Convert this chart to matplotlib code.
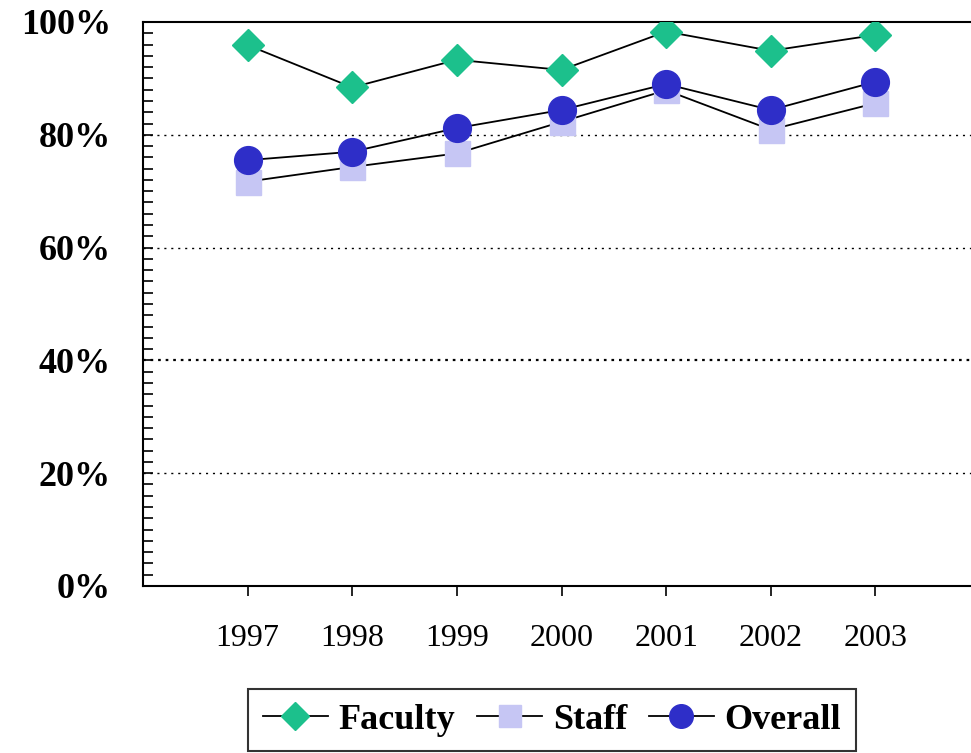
import matplotlib
matplotlib.use("Agg")
import matplotlib.pyplot as plt
from matplotlib.ticker import MultipleLocator, FuncFormatter

years = [1997, 1998, 1999, 2000, 2001, 2002, 2003]
faculty = [95.9, 88.4, 93.3, 91.5, 98.3, 94.9, 97.7]
staff = [71.7, 74.3, 76.7, 82.3, 87.9, 80.9, 85.6]
overall = [75.5, 77.0, 81.2, 84.4, 89.0, 84.4, 89.4]

W, H = 971, 753
fig = plt.figure(figsize=(W / 100, H / 100), dpi=100)
left, right, top, bottom = 143 / W, 980 / W, 1 - 22 / H, 1 - 586 / H
ax = fig.add_axes([left, bottom, right - left, top - bottom])

serif = ["Liberation Serif", "DejaVu Serif"]

for yv in [20, 40, 60, 80]:
    ax.axhline(yv, color="black", lw=1.6 if yv == 40 else 1.0,
               ls=(0, (1.5, 3.5)) if yv != 40 else (0, (1.2, 2.2)), zorder=1)

ax.plot(years, staff, color="black", lw=1.3, marker="s", ms=18,
        mfc="#C6C6F4", mec="#C6C6F4", label="Staff", zorder=3)
ax.plot(years, overall, color="black", lw=1.3, marker="o", ms=20,
        mfc="#2E2EC8", mec="#2E2EC8", label="Overall", zorder=4)
ax.plot(years, faculty, color="black", lw=1.3, marker="D", ms=16.5,
        mfc="#1CC08C", mec="#1CC08C", label="Faculty", zorder=5)

ax.set_xlim(1996, 2004)
ax.set_ylim(0, 100)
ax.set_xticks(years)
ax.set_xticklabels([str(y) for y in years], fontfamily=serif, fontsize=23)
ax.yaxis.set_major_locator(MultipleLocator(20))
ax.yaxis.set_minor_locator(MultipleLocator(2))
ax.yaxis.set_major_formatter(FuncFormatter(lambda v, p: f"{int(v)}%"))
for lab in ax.get_yticklabels():
    lab.set_fontfamily(serif)
    lab.set_fontweight("bold")
    lab.set_fontsize(26)
ax.tick_params(axis="y", which="both", direction="in", length=7, width=1.2, pad=23)
ax.tick_params(axis="x", direction="out", length=7, width=1.2, pad=20)
ax.spines["right"].set_visible(False)
for s in ["left", "bottom", "top"]:
    ax.spines[s].set_linewidth(1.5)

h, l = ax.get_legend_handles_labels()
order = [2, 0, 1]
leg = fig.legend([h[i] for i in order], [l[i] for i in order], loc="center",
                 bbox_to_anchor=(552 / W, 1 - 720 / H), ncol=3, frameon=True,
                 fancybox=False, edgecolor="black", handlelength=1.8,
                 handletextpad=0.3, columnspacing=0.6, borderpad=0.4,
                 borderaxespad=0,
                 prop={"family": serif, "weight": "bold", "size": 26},
                 markerscale=0.85)
leg.get_frame().set_linewidth(1.5)

fig.savefig("out.png", dpi=100)
